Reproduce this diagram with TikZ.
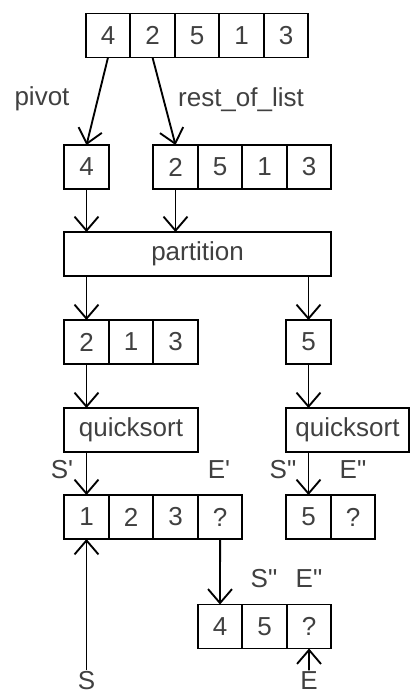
\documentclass[tikz,border=0pt]{standalone}
\usepackage{fontspec}
\setmainfont{Liberation Sans}
\usepackage{tikz}
\usetikzlibrary{positioning,arrows.meta}

\tikzset{
  cell/.style={draw, line width=1.4pt, outer sep=0pt, inner sep=0pt,
    minimum width=33.4pt, minimum height=33pt, text=black!75,
    font=\fontsize{19.5}{23}\selectfont},
  lbl/.style={inner sep=1pt, text=black!75, font=\fontsize{19.5}{23}\selectfont},
  flow/.style={line width=1.4pt, -{Straight Barb[length=10.5pt,width=18pt,line width=1.4pt]}}
}

\begin{document}
\begin{tikzpicture}[x=0.75pt,y=-0.75pt]

\useasboundingbox (0,0) rectangle (410,697);

%% the whole list
\node[cell] (t1) at (108,35.5) {4};
\node[cell, right=0pt of t1] (t2) {2};
\node[cell, right=0pt of t2] (t3) {5};
\node[cell, right=0pt of t3] (t4) {1};
\node[cell, right=0pt of t4] (t5) {3};

%% pivot and rest of the list
\node[cell] (pv) at (86.5,167) {4};
\node[cell] (r1) at (175.5,167) {2};
\node[cell, right=0pt of r1] (r2) {5};
\node[cell, right=0pt of r2] (r3) {1};
\node[cell, right=0pt of r3] (r4) {3};

\draw [flow] (t1.south) -- (pv.north);
\draw [flow] (t2.south) -- (r1.north);
\node[lbl] (pvlbl) at (42,99) {pivot};
\node[lbl] (rstlbl) at (241,99.5) {rest\_of\_list};

%% partition
\node[cell, minimum width=200.25pt] (part) at (197.5,254) {partition};
\draw [flow] (pv.south) -- (pv |- part.north);
\draw [flow] (r1.south) -- (r1 |- part.north);

%% the two parts
\node[cell] (a1) at (86.5,342) {2};
\node[cell, right=0pt of a1] (a2) {1};
\node[cell, right=0pt of a2] (a3) {3};
\node[cell] (b1) at (308.5,342) {5};
\draw [flow] (part.south -| a1) -- (a1.north);
\draw [flow] (part.south -| b1) -- (b1.north);

%% quicksort on each part
\node[cell, minimum width=100.5pt] (q1) at (131,430) {quicksort};
\node[cell, minimum width=92.25pt] (q2) at (347.5,430) {quicksort};
\draw [flow] (a1.south) -- (a1 |- q1.north);
\draw [flow] (b1.south) -- (b1 |- q2.north);

%% sorted parts
\node[cell] (c1) at (86.5,517) {1};
\node[cell, right=0pt of c1] (c2) {2};
\node[cell, right=0pt of c2] (c3) {3};
\node[cell, right=0pt of c3] (c4) {?};
\node[cell] (d1) at (308.5,517) {5};
\node[cell, right=0pt of d1] (d2) {?};
\draw [flow] (q1.south -| c1) -- (c1.north);
\draw [flow] (q2.south -| d1) -- (d1.north);

\node[lbl] (s1) at (62,470) {S\textquotesingle};
\node[lbl] (e1) at (219,470) {E\textquotesingle};
\node[lbl] (s2) at (283,470) {S\textquotedbl};
\node[lbl] (e2) at (353,470) {E\textquotedbl};

%% pivot and upper part appended
\node[cell] (f1) at (220,626.5) {4};
\node[cell, right=0pt of f1] (f2) {5};
\node[cell, right=0pt of f2] (f3) {?};
\draw [flow] (c4.south) -- (f1.north);
\node[lbl] (s3) at (264,579) {S\textquotedbl};
\node[lbl] (e3) at (309,579) {E\textquotedbl};

%% start and end
\node[lbl] (S) at (86.5,681) {S};
\node[lbl] (E) at (309,681) {E};
\draw [flow] (S.north) -- (c1.south);
\draw [flow] (E.north) -- (f3.south);

\end{tikzpicture}
\end{document}
